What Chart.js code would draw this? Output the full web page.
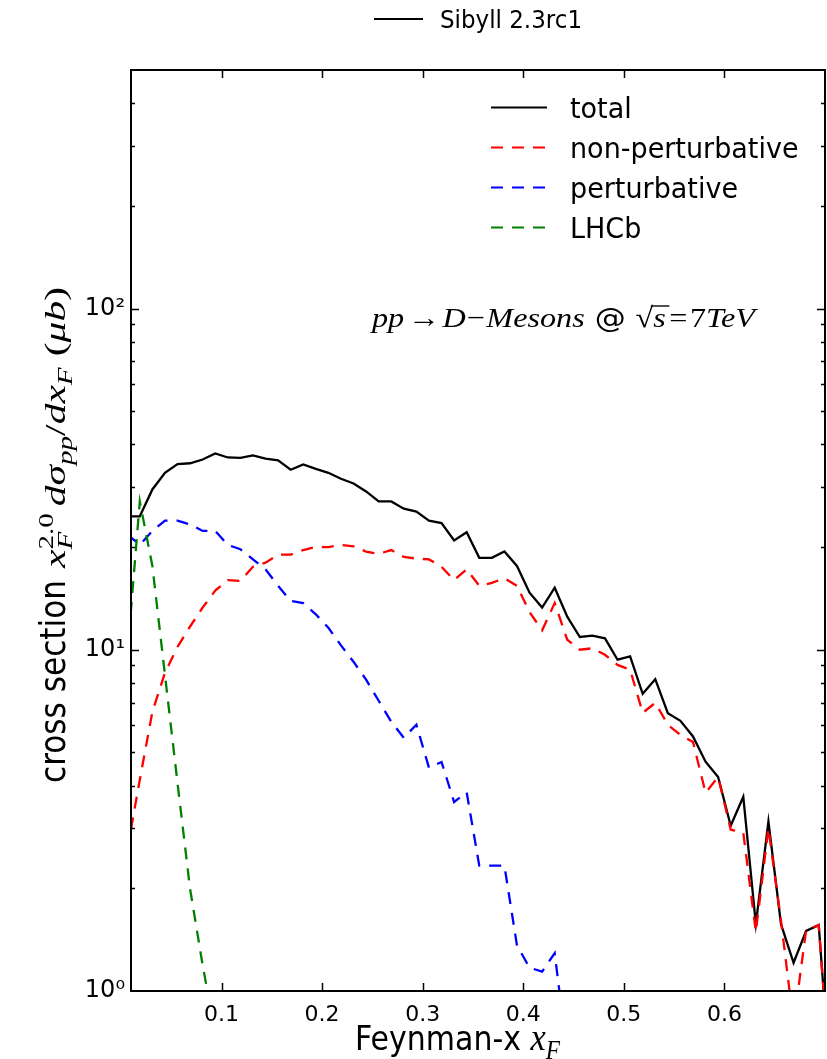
<!DOCTYPE html>
<html>
<head>
<meta charset="utf-8">
<script src="https://cdn.jsdelivr.net/npm/chart.js@4.4.0/dist/chart.umd.min.js"></script>
<style>
  html, body { margin: 0; padding: 0; background: #fff; }
</style>
</head>
<body>
<canvas id="chart" width="827" height="1059"></canvas>
<script>
// bin centres in x_F (bins of 0.0125)
const xF = [0.00625, 0.01875, 0.03125, 0.04375, 0.05625, 0.06875, 0.08125, 0.09375,
  0.10625, 0.11875, 0.13125, 0.14375, 0.15625, 0.16875, 0.18125, 0.19375,
  0.20625, 0.21875, 0.23125, 0.24375, 0.25625, 0.26875, 0.28125, 0.29375,
  0.30625, 0.31875, 0.33125, 0.34375, 0.35625, 0.36875, 0.38125, 0.39375,
  0.40625, 0.41875, 0.43125, 0.44375, 0.45625, 0.46875, 0.48125, 0.49375,
  0.50625, 0.51875, 0.53125, 0.54375, 0.55625, 0.56875, 0.58125, 0.59375,
  0.60625, 0.61875, 0.63125, 0.64375, 0.65625, 0.66875, 0.68125, 0.69375, 0.70625];

// x_F^2 dsigma/dx_F (mub)
const total = [24.6, 24.6, 29.5, 33.0, 35.0, 35.2, 36.1, 37.6, 36.6, 36.5, 37.1, 36.3,
  35.9, 33.7, 34.9, 33.9, 33.0, 31.7, 30.7, 29.1, 27.2, 27.2, 25.9, 25.4, 23.9, 23.5,
  20.9, 22.1, 18.6, 18.6, 19.4, 17.6, 14.7, 13.3, 15.2, 12.5, 10.9, 11.0, 10.8, 9.35,
  9.56, 7.43, 8.20, 6.52, 6.19, 5.57, 4.70, 4.24, 3.05, 3.71, 1.57, 3.14, 1.57, 1.21,
  1.50, 1.56, 0.5];

const nonPert = [2.59, 4.16, 6.58, 8.56, 10.2, 11.7, 13.3, 14.9, 16.0, 15.9, 17.5, 18.0,
  19.0, 19.0, 19.6, 20.0, 20.0, 20.3, 20.1, 19.4, 19.1, 19.6, 18.7, 18.5, 18.4, 17.5,
  16.0, 17.2, 15.4, 15.7, 16.2, 15.4, 12.9, 11.4, 13.7, 10.7, 10.0, 10.1, 9.67, 9.03,
  8.74, 6.53, 6.99, 6.03, 5.63, 5.37, 3.81, 4.24, 2.97, 2.91, 1.49, 3.0, 1.61, 0.8,
  1.51, 1.56, 0.5];

const pert = [21.8, 20.3, 22.3, 23.9, 23.9, 23.3, 22.3, 22.3, 20.3, 19.7, 18.4, 17.2,
  15.4, 13.9, 13.7, 12.7, 11.6, 10.3, 9.22, 8.17, 7.09, 6.15, 5.52, 6.03, 4.51, 4.69,
  3.58, 3.82, 2.33, 2.33, 2.33, 1.36, 1.17, 1.14, 1.29, 0.65, null, null, null, null,
  null, null, null, null, null, null, null, null, null, null, null, null, null, null,
  null, null, null];

const lhcb = [9.6, 27.2, 17.6, 8.45, 4.07, 1.99, 1.19, 0.75, null, null, null, null,
  null, null, null, null, null, null, null, null, null, null, null, null, null, null,
  null, null, null, null, null, null, null, null, null, null, null, null, null, null,
  null, null, null, null, null, null, null, null, null, null, null, null, null, null,
  null, null, null];

const seriesNames = ['total', 'non-perturbative', 'perturbative', 'LHCb'];
const xTicks = [0.1, 0.2, 0.3, 0.4, 0.5, 0.6];
const yTicks = [1, 10, 100];
const yTickLabels = ['10\u2070', '10\u00b9', '10\u00b2'];

const SANS = "'DejaVu Sans'";
const SERIF = "'Liberation Serif'";

function points(vals) {
    return xF.map((x, i) => ({ x: x, y: vals[i] }));
}

// draws a list of text pieces one after another, optionally stretched to a width
function drawRuns(c, runs, x, y, width, sy) {
    let natural = 0, held = 0;
    runs.forEach(r => {
        c.font = r.f;
        const w = c.measureText(r.t).width + (r.gap || 0);
        if (r.hold) held = Math.max(held, w);
        else { natural += Math.max(w, held); held = 0; }
    });
    const sx = width ? width / natural : 1;
    c.save();
    c.translate(x, y);
    c.scale(sx, sy || 1);
    c.textAlign = 'left';
    c.textBaseline = 'alphabetic';
    c.fillStyle = '#000';
    let cx = 0;
    held = 0;
    runs.forEach(r => {
        c.font = r.f;
        const w = c.measureText(r.t).width + (r.gap || 0);
        c.fillText(r.t, cx, r.dy || 0);
        if (r.bar) {
            c.strokeStyle = '#000';
            c.lineWidth = 1.3;
            c.beginPath();
            c.moveTo(cx - 2, (r.dy || 0) - r.bar);
            c.lineTo(cx + w, (r.dy || 0) - r.bar);
            c.stroke();
        }
        if (r.hold) held = Math.max(held, w);
        else { cx += Math.max(w, held); held = 0; }
    });
    c.restore();
}

// frame with inward ticks like the original
const framePlugin = {
    id: 'frame',
    afterDatasetsDraw(chart) {
        const c = chart.ctx;
        const a = chart.chartArea;
        const xs = chart.scales.x, ys = chart.scales.y;
        c.save();
        c.strokeStyle = '#000';
        c.lineWidth = 1.5;
        c.beginPath();
        xTicks.forEach(v => {
            const px = Math.round(xs.getPixelForValue(v)) + 0.5;
            c.moveTo(px, a.bottom); c.lineTo(px, a.bottom - 8);
            c.moveTo(px, a.top); c.lineTo(px, a.top + 8);
        });
        for (let d = 1; d <= 100; d *= 10) {
            for (let m = 1; m <= 9; m++) {
                const v = d * m;
                if (v <= ys.min || v >= ys.max) continue;
                const py = Math.round(ys.getPixelForValue(v)) + 0.5;
                const len = m === 1 ? 8 : 4;
                c.moveTo(a.left, py); c.lineTo(a.left + len, py);
                c.moveTo(a.right, py); c.lineTo(a.right - len, py);
            }
        }
        c.stroke();
        c.lineWidth = 2;
        c.strokeRect(a.left, a.top, a.right - a.left, a.bottom - a.top);
        c.restore();
    }
};

const textPlugin = {
    id: 'texts',
    afterDraw(chart) {
        const c = chart.ctx;
        const sets = chart.data.datasets;

        // top title with its line sample
        c.save();
        c.strokeStyle = '#000';
        c.lineWidth = 2;
        c.beginPath();
        c.moveTo(374, 19); c.lineTo(423, 19);
        c.stroke();
        c.restore();
        drawRuns(c, [{ t: 'Sibyll 2.3rc1', f: '23px ' + SANS }], 440, 28, 142, 1.1);

        // legend inside the plot
        sets.forEach((ds, i) => {
            const y = 107.5 + i * 40;
            c.save();
            c.strokeStyle = ds.borderColor;
            c.lineWidth = 2;
            c.setLineDash(ds.borderDash || []);
            c.beginPath();
            c.moveTo(491, y); c.lineTo(547, y);
            c.stroke();
            c.restore();
            drawRuns(c, [{ t: ds.label, f: '27px ' + SANS }], 570, y + 10, 0, 1.05);
        });

        // process label
        const I = 'italic 27px ' + SERIF, U = '27px ' + SERIF;
        drawRuns(c, [
            { t: 'pp', f: I, gap: 3 }, { t: '\u2192', f: U, gap: 2 }, { t: 'D', f: I, gap: 1 },
            { t: '\u2212', f: U, gap: 1 }, { t: 'Mesons', f: I }, { t: ' @ ', f: '26px ' + SANS },
            { t: '\u221a', f: U }, { t: 's', f: I, bar: 20, gap: 3 }, { t: '=', f: U, gap: 2 },
            { t: '7', f: U }, { t: 'TeV', f: I }
        ], 372, 327, 383, 1.05);

        // x axis title
        drawRuns(c, [
            { t: 'Feynman-x ', f: '27px ' + SANS }, { t: 'x', f: 'italic 31px ' + SERIF },
            { t: 'F', f: 'italic 21px ' + SERIF, dy: 7 }
        ], 355, 1050, 205, 1.25);

        // y axis title (rotated)
        c.save();
        c.translate(65, 783);
        c.rotate(-Math.PI / 2);
        drawRuns(c, [{ t: 'cross section', f: '31px ' + SANS }], 0, 0, 203, 1.12);
        const S = 'italic 30px ' + SERIF, SS = 'italic 21px ' + SERIF;
        const R = '30px ' + SERIF, RS = '21px ' + SERIF;
        drawRuns(c, [
            { t: 'x', f: S }, { t: 'F', f: SS, dy: 7, hold: true }, { t: '2.0', f: RS, dy: -13, gap: 5 },
            { t: 'd', f: S }, { t: '\u03c3', f: S }, { t: 'pp', f: SS, dy: 7 }, { t: '/', f: R },
            { t: 'd', f: S }, { t: 'x', f: S }, { t: 'F', f: SS, dy: 7, gap: 8 },
            { t: '(', f: R }, { t: '\u03bc', f: S }, { t: 'b', f: S }, { t: ')', f: R }
        ], 215, 0, 281, 0.95);
        c.restore();
    }
};

const ctx = document.getElementById('chart').getContext('2d');
new Chart(ctx, {
    type: 'line',
    data: {
        datasets: [
            { label: seriesNames[0], data: points(total), borderColor: '#000000', order: 4 },
            { label: seriesNames[1], data: points(nonPert), borderColor: '#ff0000', borderDash: [12, 9], order: 3 },
            { label: seriesNames[2], data: points(pert), borderColor: '#0000ff', borderDash: [12, 9], order: 2 },
            { label: seriesNames[3], data: points(lhcb), borderColor: '#008000', borderDash: [12, 9], order: 1 }
        ]
    },
    options: {
        responsive: false,
        animation: false,
        events: [],
        elements: {
            line: { borderWidth: 2.3, tension: 0, fill: false },
            point: { radius: 0 }
        },
        layout: { padding: { top: 70, right: 2, left: 0, bottom: 0 } },
        plugins: { legend: { display: false }, tooltip: { enabled: false } },
        scales: {
            x: {
                type: 'linear',
                min: 0.01,
                max: 0.7,
                grid: { display: false, drawTicks: false },
                border: { display: false },
                ticks: {
                    color: '#000',
                    font: { family: 'DejaVu Sans', size: 22 },
                    padding: 11,
                    maxRotation: 0,
                    callback: v => v.toFixed(1)
                },
                afterBuildTicks: s => { s.ticks = xTicks.map(v => ({ value: v })); },
                afterFit: s => { s.height = 68; }
            },
            y: {
                type: 'logarithmic',
                min: 1,
                max: 500,
                grid: { display: false, drawTicks: false },
                border: { display: false },
                ticks: {
                    color: '#000',
                    font: { family: 'DejaVu Sans', size: 24 },
                    padding: 6,
                    callback: v => yTickLabels[yTicks.indexOf(v)]
                },
                afterBuildTicks: s => { s.ticks = yTicks.map(v => ({ value: v })); },
                afterFit: s => { s.width = 131; }
            }
        }
    },
    plugins: [framePlugin, textPlugin]
});
</script>
</body>
</html>
